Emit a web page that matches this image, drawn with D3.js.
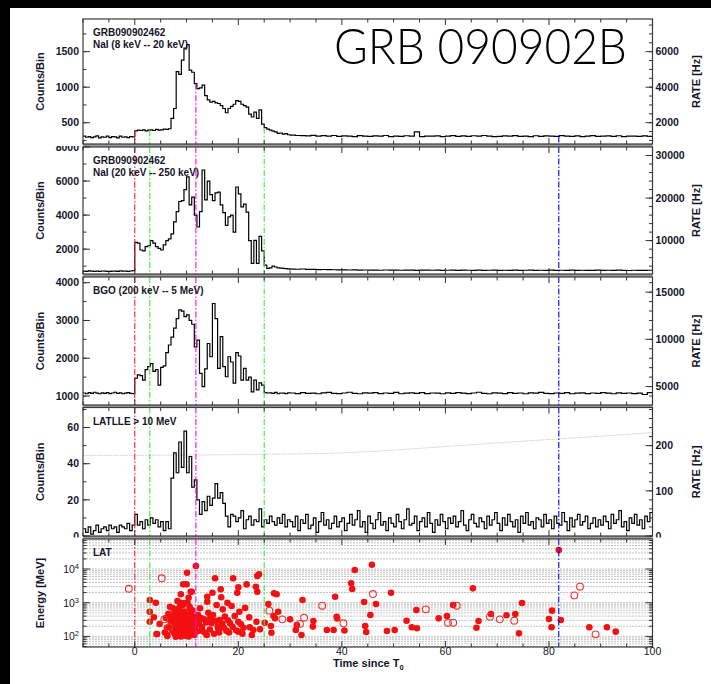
<!DOCTYPE html>
<html><head><meta charset="utf-8">
<script src="https://cdn.jsdelivr.net/npm/d3@7"></script>
<style>body{margin:0;background:#fff}svg{display:block}</style>
</head><body><svg id="c" width="711" height="684"></svg>
<script>
// ---------------- DATA ----------------
const titleText = "GRB 090902B";
// bin edges: 0.5 s bins from -10 to 30 s, 1 s bins from 30 to 100 s (GBM panels)
const binEdges = d3.range(-10, 30, 0.5).concat(d3.range(30, 101, 1));
// LLE panel: 0.5 s bins throughout
const lleEdges = d3.range(-10, 100.5, 0.5);

const naiLow = [
 310,295,305,290,300,315,285,300,295,310,290,305,300,285,310,295,300,290,305,300,
 385,395,390,400,385,395,400,390,405,395,400,410,405,415,
 560,700,1220,1180,1380,1550,1600,1240,1210,1050,980,990,1030,880,
 820,790,800,780,770,740,700,640,700,730,760,810,800,760,740,720,620,580,650,560,680,480,430,410,395,380,370,350,355,340,345,330,
 325,320,318,315,322,310,318,312,320,308,
 315,310,305,318,312,306,314,310,320,305,
 312,308,316,310,370,305,312,310,315,304,
 312,318,308,314,306,316,310,320,312,305,
 308,314,310,318,306,312,304,316,308,314,
 310,306,318,312,308,315,305,312,318,306,
 310,314,308,316,305,312,310,308,314,306];

const naiHigh = [
 710,700,720,705,695,710,700,715,705,700,690,710,705,700,720,705,710,700,715,740,
 2400,2350,1950,1900,2150,2200,2500,2350,2150,2050,1950,2250,2500,2600,
 2900,3600,4200,4800,4850,5500,6250,4600,5050,4000,3300,4200,6650,4900,
 6000,5200,4850,5300,5350,4600,4150,3400,3900,4000,3000,5650,5250,4480,4650,4180,2500,1160,2520,1160,2750,1900,1060,870,900,1000,950,900,880,870,850,840,
 830,820,835,815,810,800,805,795,790,780,
 785,775,780,770,775,765,770,760,775,765,
 770,760,765,770,755,765,770,760,765,755,
 760,770,755,765,760,750,765,755,760,770,
 755,760,750,765,755,760,770,750,760,755,
 765,750,760,755,765,750,760,755,750,765,
 755,760,750,765,755,745,760,755,750,760];

const bgo = [
 1080,1060,1090,1070,1100,1075,1060,1085,1070,1090,1065,1080,1100,1070,1085,1060,1075,1090,1070,1065,
 1470,1560,1540,1420,1700,1780,1860,1650,1700,1290,1760,1800,2150,2350,
 2560,2800,3050,3280,3250,3100,3150,3000,2900,2300,2480,1600,1250,1720,
 2390,2040,3450,3050,1730,2570,1780,1510,2040,1900,1340,2150,2060,1420,1730,1420,1500,1110,1420,1160,1350,1290,1090,1080,1085,1070,1095,1060,1080,1075,1065,1085,
 1080,1065,1090,1070,1075,1060,1085,1095,1070,1065,
 1080,1100,1070,1060,1085,1075,1090,1065,1080,1070,
 1095,1060,1075,1085,1070,1090,1065,1080,1075,1060,
 1085,1070,1090,1075,1065,1080,1100,1070,1060,1085,
 1075,1065,1090,1070,1080,1060,1085,1075,1095,1070,
 1065,1080,1070,1090,1060,1075,1085,1065,1080,1070,
 1090,1075,1060,1085,1070,1080,1065,1075,1040,1090];

const lle = [
 4,2,5,1,3,6,2,4,5,3,6,4,5,2,6,5,4,7,3,6,
 12,6,8,4,9,6,10,7,9,5,8,3,8,4,
 32,46,35,52,38,58,35,44,27,31,20,12,19,14,
 22,17,21,29,21,24,18,11,5,12,11,8,10,14,4,9,11,6,9,8,15,5,9,7,11,8,6,10,7,12,5,9,
 8,5,11,3,9,7,12,4,6,10,2,8,13,6,9,4,7,11,5,8,
 10,3,7,12,6,9,14,5,8,2,11,7,4,9,13,6,8,3,10,7,
 5,12,8,4,9,15,6,7,11,3,8,10,5,13,7,2,9,6,12,8,
 4,10,7,11,5,8,14,6,3,9,12,7,5,10,8,4,11,6,9,13,
 7,3,10,6,12,8,5,9,2,11,7,13,6,8,4,10,9,5,12,7,
 9,4,11,7,6,13,8,3,10,5,9,12,6,8,11,4,7,10,5,9,
 6,11,8,4,12,7,9,14,5,8,3,10,7,12,6,9,4,11,8,13];

// LLE background model (counts/bin)
const lleBgTime = [-10,10,25,40,55,70,85,100];
const lleBgValue = [44.6,44.8,45.2,46,48.5,51.5,54.3,57.2];

// LAT photons [time s, energy MeV]
const latFilled = [
 [2.9,1200],[2.9,540],[2.9,272],[4.06,1000],[3.7,370],[4.3,118],[4.8,233],[6.3,103],[6.8,760],
 [6.5,470],[6.8,300],[7.0,210],[7.2,150],[7.3,390],[7.5,250],[7.6,125],[7.8,330],[7.9,180],[8.0,600],
 [8.1,270],[8.2,140],[8.3,420],[8.4,210],[8.5,105],[8.6,330],[8.7,160],[8.8,250],[8.9,480],[9.0,130],
 [9.0,200],[9.1,300],[9.2,380],[9.3,170],[9.4,115],[9.5,240],[9.6,550],[9.7,150],[9.8,330],[9.9,200],
 [10.0,120],[10.1,420],[10.2,260],[10.3,170],[10.4,100],[10.5,330],[10.6,220],[10.7,140],[10.8,480],
 [10.9,190],[11.0,280],[11.1,120],[11.2,380],[11.3,160],[11.4,230],[11.5,110],[11.6,320],[11.7,190],
 [8.6,700],[9.3,850],[10.6,750],[7.7,520],[6.2,180],[6.0,350],[5.8,130],[11.0,560],[12.0,140],[12.2,430],
 [11.8,12300],[10.1,7760],[9.35,3510],[10.0,3510],[10.8,2120],[8.9,1775],[7.4,680],[8.25,1120],[8.8,1000],
 [9.5,980],[10.2,1000],[10.75,607],[8.7,540],[6.9,385],[4.2,118],[6.25,110],[7.9,98],[8.9,100],[9.8,105],
 [10.6,110],[11.0,2120],[10.4,1400],[11.0,607],
 [12.6,680],[13.4,320],[12.4,245],[12.9,148],[14.2,505],[14.0,1070],[14.0,1500],[13.9,110],[14.8,245],
 [15.0,1980],[15.5,5300],[15.8,855],[15.1,430],[16.1,174],[16.4,307],[16.6,2500],[16.7,1450],[17.0,635],
 [17.4,385],[17.7,148],[17.9,1000],[18.7,800],[18.4,245],[19.0,5300],[19.8,1980],[20.0,2860],[20.2,540],
 [20.0,272],[20.0,138],[21.6,3500],[22.1,370],[22.2,186],[22.6,110],[23.4,2990],[23.65,6200],[24.0,6950],
 [23.65,2120],[23.5,272],[24.2,162],[22.9,155],[25.1,255],[25.8,915],[26.9,1900],[27.4,1775],[26.8,400],
 [26.3,203],[26.4,128],[27.7,540],[27.1,343],[30.0,321],[31.3,218],[31.1,155],[32.2,110],[32.4,1200],
 [34.5,285],[34.4,195],[37.1,155],[38.7,1500],[39.0,380],[39.1,340],[38.4,155],
 [12.8,350],[13.0,190],[13.5,130],[13.8,260],[14.5,160],[14.6,360],[15.3,120],[15.6,290],[16.0,200],
 [16.3,130],[16.9,240],[17.2,180],[18.0,300],[18.2,130],[18.9,190],[19.3,400],[19.6,150],[20.5,230],
 [21.0,180],[21.3,700],[20.8,120],
 [42.5,9350],[45.8,13400],[41.8,3760],[42.0,2550],[40.5,150],[44.3,1050],[46.6,915],[45.5,430],[44.5,203],
 [44.7,135],[48.7,144],[50.2,155],[49.5,1980],[52.5,292],[53.5,186],[54.5,174],[54.4,607],[58.7,343],
 [60.3,400],[61.5,855],[65.3,2670],[66.0,181],[66.4,285],[68.8,460],[71.8,423],[73.5,460],[74.2,123],
 [74.8,980],[80.0,328],[80.6,580],[80.5,186],[81.9,36500],[82.3,307],[87.8,186],[91.2,186],[92.9,138]];

const latOpen = [
 [-1.16,2600],[5.2,5300],[5.7,321],[6.6,186],[26.0,580],[28.5,321],[32.7,359],[31.9,235],[36.2,815],
 [40.3,245],[46.0,1810],[56.2,635],[60.5,255],[61.5,255],[62.2,815],[68.6,385],[70.5,321],[73.3,292],
 [84.9,1650],[86.0,2990],[89.0,115]];

// reference times and colours of the vertical markers
const markerTimes = [0, 2.9, 11.8, 25.0, 81.9];
const markerColors = ["#ff2020", "#33ee33", "#ff00ff", "#33ee33", "#0000ff"];

const xTickLabels = [0, 20, 40, 60, 80, 100];
const countTicks = [[500,1000,1500],[2000,4000,6000,8000],[1000,2000,3000,4000],[0,20,40,60]];
const rateTicks = [[2000,4000,6000],[10000,20000,30000],[5000,10000,15000],[0,100,200]];
const panelLabels = [["GRB090902462","NaI (8 keV -- 20 keV)"],["GRB090902462","NaI (20 keV -- 250 keV)"],["BGO (200 keV -- 5 MeV)"],["LATLLE > 10 MeV"],["LAT"]];

// ---------------- LAYOUT ----------------
const W = 711, H = 684;
const L = 83, R = 652.5;
const FONT = "'Liberation Sans', Arial, Helvetica, sans-serif";
const ink = "#15152a";
const svg = d3.select("#c");
svg.append("rect").attr("width", W).attr("height", H).attr("fill", "#fff");

const x = d3.scaleLinear().domain([-10, 100]).range([L, R]);

const panels = [
 {top:19, bottom:144, domain:[200,1960], data:naiLow, edges:binEdges, cMinor:250, rMinor:500},
 {top:147, bottom:274, domain:[540,8000], data:naiHigh, edges:binEdges, cMinor:1000, rMinor:2000},
 {top:277, bottom:405, domain:[762,4151], data:bgo, edges:binEdges, cMinor:500, rMinor:1000},
 {top:407.5, bottom:536, domain:[0,71.1], data:lle, edges:lleEdges, cMinor:10, rMinor:20},
 {top:539, bottom:647, log:true, domain:[48.4,77900]}
];
const rateFactor = 4;

const defs = svg.append("defs");
panels.forEach((p, i) => {
  defs.append("clipPath").attr("id", "in" + i).append("rect")
    .attr("x", L).attr("y", p.top).attr("width", R - L).attr("height", p.bottom - p.top);
  defs.append("clipPath").attr("id", "band" + i).append("rect")
    .attr("x", 0).attr("y", p.top - 1).attr("width", W).attr("height", p.bottom - p.top + 2.5);
  p.y = (p.log ? d3.scaleLog() : d3.scaleLinear()).domain(p.domain).range([p.bottom, p.top]);
});

// gaps between panels
for (let i = 0; i < panels.length - 1; i++) {
  svg.append("rect").attr("x", L).attr("y", panels[i].bottom)
    .attr("width", R - L).attr("height", panels[i + 1].top - panels[i].bottom).attr("fill", "#9a9a9a");
}

const stepLine = d3.line().curve(d3.curveStepAfter);

panels.forEach((p, i) => {
  const g = svg.append("g").attr("clip-path", `url(#band${i})`);
  const inner = g.append("g").attr("clip-path", `url(#in${i})`);

  if (p.log) {
    const grid = [];
    for (let e = 1; e <= 4; e++) for (let m = 1; m <= 9; m++) {
      const v = m * Math.pow(10, e);
      if (v >= p.domain[0] && v <= p.domain[1]) grid.push(v);
    }
    inner.selectAll(".grid").data(grid).join("line")
      .attr("x1", L).attr("x2", R).attr("y1", d => p.y(d)).attr("y2", d => p.y(d))
      .attr("stroke", "#bcbcbc").attr("stroke-width", 0.9).attr("stroke-dasharray", "2,1");
    inner.selectAll(".pf").data(latFilled).join("circle")
      .attr("cx", d => x(d[0])).attr("cy", d => p.y(d[1])).attr("r", 3.3).attr("fill", "#f21010");
    inner.selectAll(".po").data(latOpen).join("circle")
      .attr("cx", d => x(d[0])).attr("cy", d => p.y(d[1])).attr("r", 3.4)
      .attr("fill", "none").attr("stroke", "#f23030").attr("stroke-width", 1.1);
  } else {
    if (i === 3) {
      const bgLine = d3.line().x(d => x(d[0])).y(d => p.y(d[1])).curve(d3.curveMonotoneX);
      inner.append("path").attr("d", bgLine(d3.zip(lleBgTime, lleBgValue)))
        .attr("fill", "none").attr("stroke", "#cfcfcf").attr("stroke-width", 1).attr("stroke-dasharray", "1.5,0.8");
    }
    const pts = p.data.map((v, k) => [x(p.edges[k]), p.y(v)]);
    pts.push([x(p.edges[p.data.length]), p.y(p.data[p.data.length - 1])]);
    inner.append("path").attr("d", stepLine(pts)).attr("fill", "none")
      .attr("stroke", "#000").attr("stroke-width", 1.2);
  }

  markerTimes.forEach((t, k) => {
    let y1 = p.top;
    if (i === 0) {
      const b = d3.bisectRight(p.edges, t) - 1;
      y1 = p.y(p.data[b]);
    }
    inner.append("line").attr("x1", x(t)).attr("x2", x(t)).attr("y1", y1).attr("y2", p.bottom)
      .attr("stroke", markerColors[k]).attr("stroke-width", 1.1).attr("stroke-dasharray", "6,2,1.5,2");
  });

  g.append("rect").attr("x", L).attr("y", p.top).attr("width", R - L).attr("height", p.bottom - p.top)
    .attr("fill", "none").attr("stroke", "#3a3a3a").attr("stroke-width", 1.2);

  d3.range(-10, 101, 5).forEach(t => {
    const len = (t % 20 === 0) ? 6 : 3.5;
    g.append("line").attr("x1", x(t)).attr("x2", x(t)).attr("y1", p.bottom).attr("y2", p.bottom - len)
      .attr("stroke", "#333").attr("stroke-width", 1);
    g.append("line").attr("x1", x(t)).attr("x2", x(t)).attr("y1", p.top).attr("y2", p.top + len)
      .attr("stroke", "#333").attr("stroke-width", 1);
  });

  if (p.log) {
    const ticks = [];
    for (let e = 1; e <= 4; e++) for (let m = 1; m <= 9; m++) {
      const v = m * Math.pow(10, e);
      if (v >= p.domain[0] && v <= p.domain[1]) ticks.push([v, m === 1]);
    }
    ticks.forEach(([v, major]) => {
      const len = major ? 7 : 3.5;
      g.append("line").attr("x1", L).attr("x2", L + len).attr("y1", p.y(v)).attr("y2", p.y(v)).attr("stroke", "#333");
      g.append("line").attr("x1", R).attr("x2", R - len).attr("y1", p.y(v)).attr("y2", p.y(v)).attr("stroke", "#333");
    });
    [100, 1000, 10000].forEach(v => {
      const t = g.append("text").attr("x", 79).attr("y", p.y(v) + 4).attr("text-anchor", "end")
        .attr("font-family", FONT).attr("font-size", 10.5).attr("fill", ink);
      t.append("tspan").text("10");
      t.append("tspan").attr("dy", -4).attr("font-size", 7.5).text(Math.round(Math.log10(v)));
    });
    g.append("text").attr("transform", `translate(44,${(p.top + p.bottom) / 2}) rotate(-90)`)
      .attr("text-anchor", "middle").attr("font-family", FONT).attr("font-weight", "bold")
      .attr("font-size", 11).attr("fill", ink).text("Energy [MeV]");
  } else {
    d3.range(Math.ceil(p.domain[0] / p.cMinor) * p.cMinor, p.domain[1], p.cMinor)
      .forEach(v => g.append("line").attr("x1", L).attr("x2", L + 3.5).attr("y1", p.y(v)).attr("y2", p.y(v)).attr("stroke", "#333"));
    countTicks[i].forEach(v => {
      g.append("line").attr("x1", L).attr("x2", L + 7).attr("y1", p.y(v)).attr("y2", p.y(v)).attr("stroke", "#333");
      g.append("text").attr("x", 79).attr("y", p.y(v)).attr("dy", "0.36em").attr("text-anchor", "end")
        .attr("font-family", FONT).attr("font-weight", "bold").attr("font-size", 10.5).attr("fill", ink).text(v);
    });
    const rd = [p.domain[0] * rateFactor, p.domain[1] * rateFactor];
    const ry = v => p.y(v / rateFactor);
    d3.range(Math.ceil(rd[0] / p.rMinor) * p.rMinor, rd[1], p.rMinor)
      .forEach(v => g.append("line").attr("x1", R).attr("x2", R - 3.5).attr("y1", ry(v)).attr("y2", ry(v)).attr("stroke", "#333"));
    rateTicks[i].forEach(v => {
      g.append("line").attr("x1", R).attr("x2", R - 7).attr("y1", ry(v)).attr("y2", ry(v)).attr("stroke", "#333");
      g.append("text").attr("x", 655.5).attr("y", ry(v)).attr("dy", "0.36em").attr("text-anchor", "start")
        .attr("font-family", FONT).attr("font-weight", "bold").attr("font-size", 10.5).attr("fill", ink).text(v);
    });
    g.append("text").attr("transform", `translate(44,${(p.top + p.bottom) / 2}) rotate(-90)`)
      .attr("text-anchor", "middle").attr("font-family", FONT).attr("font-weight", "bold")
      .attr("font-size", 11).attr("fill", ink).text("Counts/Bin");
    g.append("text").attr("transform", `translate(700,${(p.top + p.bottom) / 2}) rotate(-90)`)
      .attr("text-anchor", "middle").attr("font-family", FONT).attr("font-weight", "bold")
      .attr("font-size", 11).attr("fill", ink).text("RATE [Hz]");
  }

  panelLabels[i].forEach((s, k) => {
    g.append("text").attr("x", 93).attr("y", p.top + 17 + k * 12)
      .attr("font-family", FONT).attr("font-weight", "bold").attr("font-size", 10)
      .attr("fill", ink).text(s);
  });
});

// x axis labels
xTickLabels.forEach(v => {
  svg.append("text").attr("x", x(v)).attr("y", 654.5).attr("text-anchor", "middle")
    .attr("font-family", FONT).attr("font-size", 10.5).attr("fill", ink).text(v);
});
const xt = svg.append("text").attr("x", 333).attr("y", 667)
  .attr("font-family", FONT).attr("font-weight", "bold").attr("font-size", 11).attr("fill", ink);
xt.append("tspan").text("Time since T");
xt.append("tspan").attr("dy", 3).attr("font-size", 7.5).text("0");

// big title
svg.append("text").attr("x", 334).attr("y", 64)
  .attr("font-family", "Lato, 'Open Sans', sans-serif").attr("font-weight", 300)
  .attr("font-size", 50).attr("fill", "#000").text(titleText)
  .attr("textLength", 293).attr("lengthAdjust", "spacingAndGlyphs");

// black frame edges
svg.append("rect").attr("x", 0).attr("y", 0).attr("width", W).attr("height", 8).attr("fill", "#000");
svg.append("rect").attr("x", 0).attr("y", 0).attr("width", 10).attr("height", H).attr("fill", "#000");
</script></body></html>
